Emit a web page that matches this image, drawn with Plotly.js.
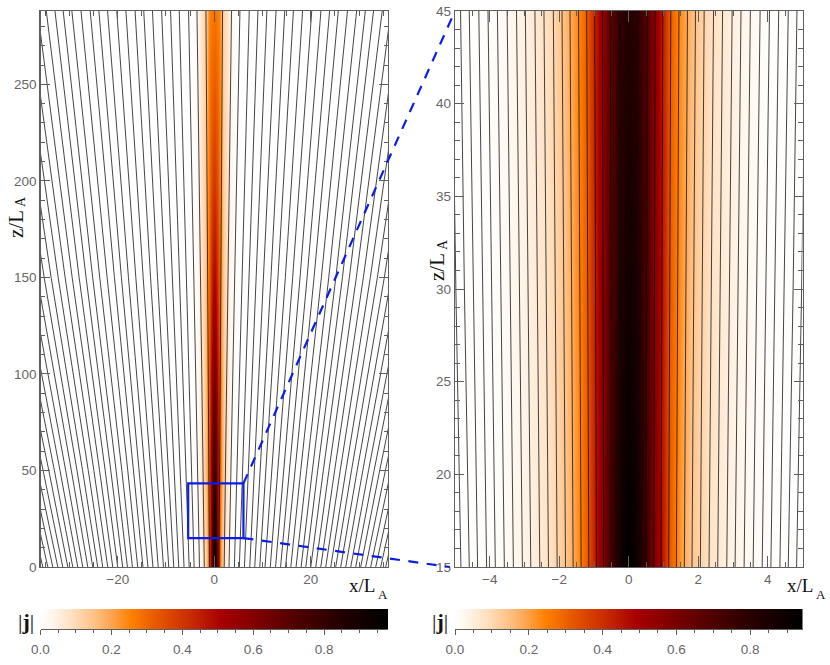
<!DOCTYPE html>
<html><head><meta charset="utf-8">
<script src="https://cdn.plot.ly/plotly-3.0.1.min.js"></script>
<style>html,body{margin:0;padding:0;background:#fff}</style></head>
<body><div id="chart" style="width:830px;height:665px"></div>
<script>
// colour ramp stops
const rampStops = [0,0.04,0.09,0.15,0.2,0.26,0.33,0.42,0.52,0.62,0.72,0.85,1];
const rampColors = ['#ffffff','#fff3e6','#ffe0c0','#ffc48a','#ffa652','#ff8000','#e85a00','#cc3000','#a80000','#800000','#560000','#280000','#000000'];

// overview panel: |j| table (rows = z, columns = |x|)
const wideOffsets = [0,0.4,0.8,1.2,1.6,2.0,2.5,3.0,3.5,4.0,5.0];
const wideZ = [0,15,45,100,150,200,250,288];
const wideJ0   = [.98,.85,.55,.30,.16,.08,.04,.015,.005,0,0];
const wideJ15  = [.94,.80,.53,.30,.16,.10,.06,.03,.01,.003,0];
const wideJ45  = [.82,.72,.52,.31,.19,.12,.075,.04,.015,.005,0];
const wideJ100 = [.62,.58,.46,.31,.20,.125,.08,.045,.018,.005,0];
const wideJ150 = [.50,.47,.39,.28,.19,.125,.085,.05,.022,.006,0];
const wideJ200 = [.40,.38,.33,.26,.18,.12,.085,.055,.027,.008,0];
const wideJ250 = [.32,.31,.29,.25,.17,.115,.085,.055,.03,.01,0];
const wideJ288 = [.28,.27,.26,.24,.15,.11,.085,.055,.03,.012,0];

// zoom panel: |j| table
const zoomOffsets = [0,.2,.4,.6,.8,1,1.2,1.4,1.6,1.8,2,2.25,2.5,2.9,3.4,4,5];
const zoomZ = [15,30,45];
const zoomJ15 = [.94,.90,.80,.67,.54,.42,.31,.24,.18,.14,.115,.085,.065,.04,.02,.006,0];
const zoomJ30 = [.88,.85,.76,.65,.53,.42,.31,.25,.19,.15,.12,.09,.07,.045,.022,.007,0];
const zoomJ45 = [.82,.79,.72,.63,.52,.41,.31,.25,.20,.16,.13,.095,.075,.05,.025,.008,0];

// overview field lines: |x| at four heights
const wideLineZ = [0,50,150,288];
const wideLine0 = [.99,2.06,3.06,4.17,5.2,6.26,7.36,8.39,9.43,10.52,11.61,12.7,13.74,14.77,15.86,16.95,17.99,18.97,20,21.03,22.07,23.1,24.14,25.17,26.2,27.24,28.28,29.31,30.34,31.38,32.41,33.45,34.48,35.52,36.55];
const wideLine50 = [1.12,2.33,3.46,4.71,5.88,7.07,8.32,9.48,10.66,11.89,13.12,14.35,15.53,16.69,17.92,19.15,20.33,21.44,22.6,23.76,24.94,26.1,27.28,28.44,29.61,30.78,31.96,33.12,34.28,35.46,36.62,37.8,38.96,40.14,41.3];
const wideLine150 = [1.39,2.88,4.28,5.84,7.28,8.76,10.3,11.75,13.2,14.73,16.25,17.78,19.24,20.68,22.2,23.73,25.19,26.56,28,29.44,30.9,32.34,33.8,35.24,36.68,38.14,39.59,41.03,42.48,43.93,45.37,46.83,48.27,49.73,51.17];
const wideLine288 = [1.72,3.58,5.32,7.25,9.05,10.9,12.8,14.6,16.4,18.3,20.2,22.1,23.9,25.7,27.6,29.5,31.3,33.0,34.8,36.6,38.4,40.2,42,43.8,45.6,47.4,49.2,51,52.8,54.6,56.4,58.2,60,61.8,63.6];

// zoom field lines: |x| at three heights
const zoomLineZ = [15,30,45];
const zoomLine15 = [.25,.50,.72,.93,1.15,1.37,1.60,1.82,2.06,2.31,2.56,2.82,3.06,3.32,3.58,3.84,4.09,4.35,4.59,4.83,5.08];
const zoomLine30 = [.26,.515,.74,.96,1.185,1.41,1.65,1.875,2.12,2.38,2.64,2.90,3.15,3.42,3.69,3.955,4.21,4.48,4.73,4.975,5.23];
const zoomLine45 = [.265,.53,.76,.98,1.21,1.445,1.69,1.92,2.17,2.44,2.70,2.975,3.23,3.50,3.78,4.05,4.315,4.59,4.84,5.095,5.36];

// colour bar samples and ticks
const barWide = [0,.05,.1,.15,.2,.25,.3,.35,.4,.45,.5,.55,.6,.65,.7,.75,.8,.85,.9,.95,1.0];
const barZoom = [0,.05,.1,.15,.2,.25,.3,.35,.4,.45,.5,.55,.6,.65,.7,.75,.8,.85,.9,.95];
const wideMax = 0.98, zoomMax = 0.942;

// the blue box on the overview panel, and where it maps on the zoom panel
const boxX = [-5.4,6.05], boxZ = [15,43.3];
const zoomCornerTop = [-5,45], zoomCornerBottom = [-5.15,15];

// layout frame (px in an 830x665 page)
const W=830,H=665, L1=[40.5,388], L2=[455,802.5], PY=[11,567], BY=[609,629];
const fx=p=>p/W, fy=p=>1-p/H;
const colorscale = rampStops.map((s,i)=>[s,rampColors[i]]);
const mirror = a => { const r=a.slice(1).reverse().map(v=>-v); return r.concat(a); };
const mirrorRow = a => a.slice(1).reverse().concat(a);

function linesTrace(cols, zs, xa, ya){
  const x=[],y=[];
  cols[0].forEach((_,i)=>{
    [1,-1].forEach(sign=>{
      cols.forEach((c,j)=>{x.push(sign*c[i]);y.push(zs[j]);});
      x.push(null);y.push(null);
    });
  });
  return {type:'scatter',mode:'lines',x,y,xaxis:xa,yaxis:ya,hoverinfo:'skip',showlegend:false,
    line:{color:'rgba(10,10,10,0.85)',width:0.9,shape:'linear'}};
}
const heat = (x,y,z,xa,ya,zmax)=>({type:'heatmap',x,y,z,xaxis:xa,yaxis:ya,zmin:0,zmax,zsmooth:'best',colorscale,showscale:false,hoverinfo:'skip'});

const traces=[
  heat(mirror(wideOffsets),wideZ,[wideJ0,wideJ15,wideJ45,wideJ100,wideJ150,wideJ200,wideJ250,wideJ288].map(mirrorRow),'x','y',wideMax),
  linesTrace([wideLine0,wideLine50,wideLine150,wideLine288],wideLineZ,'x','y'),
  heat(mirror(zoomOffsets),zoomZ,[zoomJ15,zoomJ30,zoomJ45].map(mirrorRow),'x2','y2',zoomMax),
  linesTrace([zoomLine15,zoomLine30,zoomLine45],zoomLineZ,'x2','y2'),
  heat(barWide,[0,1],[barWide,barWide],'x3','y3',wideMax),
  heat(barZoom,[0,1],[barZoom,barZoom],'x4','y4',zoomMax)
];

const axCol='#5f5f5f', tickFont={family:'"Liberation Sans",Arial,sans-serif',size:13.5,color:'#666'};
const plotAx=(dom,range,dt,mdt,len,mlen)=>({domain:dom,range,dtick:dt,tick0:0,ticks:'inside',ticklen:len,tickwidth:1,tickcolor:axCol,
  showline:true,linecolor:axCol,linewidth:1.2,mirror:'ticks',showgrid:false,zeroline:false,tickfont:tickFont,
  minor:{dtick:mdt,tick0:0,ticks:'inside',ticklen:mlen,tickcolor:axCol,tickwidth:1,showgrid:false},automargin:false});
const barAx=(dom,range,fmt)=>({domain:dom,range,dtick:.2,tick0:fmt.t0,tickformat:'.1f',ticks:'outside',ticklen:5,tickwidth:1,tickcolor:axCol,
  showline:true,linecolor:axCol,linewidth:1,showgrid:false,zeroline:false,tickfont:tickFont,ticklabelstandoff:3,
  minor:{dtick:.05,tick0:0,ticks:'outside',ticklen:2.5,tickcolor:axCol,tickwidth:1,showgrid:false}});
const hiddenY=(dom,anchor)=>({domain:dom,range:[0,1],visible:false,anchor,fixedrange:true});

// data -> page helpers for the overlay that spans both panels
const pxW=(v)=>L1[0]+(v+36)/72*(L1[1]-L1[0]);
const pyW=(v)=>PY[1]-v/288*(PY[1]-PY[0]);
const pxZ=(v)=>L2[0]+(v+5)/10*(L2[1]-L2[0]);
const pyZ=(v)=>PY[1]-(v-15)/30*(PY[1]-PY[0]);
const blue='#0b1ee6';
const dash=(a,b)=>({type:'line',xref:'paper',yref:'paper',x0:fx(a[0]),y0:fy(a[1]),x1:fx(b[0]),y1:fy(b[1]),line:{color:blue,width:2.2,dash:'10px,8.5px'}});

const serif=(s)=>({family:'"Liberation Serif","Times New Roman",serif',size:s,color:'#111'});
const note=(text,px,py,size,extra)=>Object.assign({text,xref:'paper',yref:'paper',x:fx(px),y:fy(py),xanchor:'center',yanchor:'middle',showarrow:false,font:serif(size)},extra||{});

const layout={
  width:W,height:H,margin:{l:0,r:0,t:0,b:0},paper_bgcolor:'#fff',plot_bgcolor:'#fff',showlegend:false,
  xaxis:Object.assign(plotAx([fx(L1[0]),fx(L1[1])],[-36,36],20,5,11,5),{anchor:'y'}),
  yaxis:Object.assign(plotAx([fy(PY[1]),fy(PY[0])],[0,288],50,10,9,4.5),{anchor:'x'}),
  xaxis2:Object.assign(plotAx([fx(L2[0]),fx(L2[1])],[-5,5],2,.5,11,5),{anchor:'y2'}),
  yaxis2:Object.assign(plotAx([fy(PY[1]),fy(PY[0])],[15,45],5,1,9,4.5),{anchor:'x2'}),
  xaxis3:Object.assign(barAx([fx(L1[0]),fx(L1[1])],[0,wideMax],{t0:0}),{anchor:'y3'}),
  yaxis3:hiddenY([fy(BY[1]),fy(BY[0])],'x3'),
  xaxis4:Object.assign(barAx([fx(L2[0]),fx(L2[1])],[0,zoomMax],{t0:.2}),{anchor:'y4'}),
  yaxis4:hiddenY([fy(BY[1]),fy(BY[0])],'x4'),
  shapes:[
    {type:'rect',xref:'x',yref:'y',x0:boxX[0],x1:boxX[1],y0:boxZ[0],y1:boxZ[1],line:{color:blue,width:2.2},fillcolor:'rgba(0,0,0,0)'},
    dash([pxW(boxX[1]),pyW(boxZ[1])],[pxZ(zoomCornerTop[0]),pyZ(zoomCornerTop[1])]),
    dash([pxW(boxX[1]),pyW(boxZ[0])],[pxZ(zoomCornerBottom[0]),pyZ(zoomCornerBottom[1])])
  ],
  annotations:[
    note('x/L',362,585,19),
    note('A',382.5,594,13),
    note('x/L',800,585,19),
    note('A',820.5,594,13),
    note('z/L',16,224,21,{textangle:-90}),
    note('A',21,202,14,{textangle:-90}),
    note('z/L',437,267,21,{textangle:-90}),
    note('A',442,245,14,{textangle:-90}),
    note('|<b>j</b>|',26,621,22),
    note('|<b>j</b>|',440,621,22)
  ]
};
Plotly.newPlot('chart',traces,layout,{displayModeBar:false,staticPlot:true});
</script></body></html>
